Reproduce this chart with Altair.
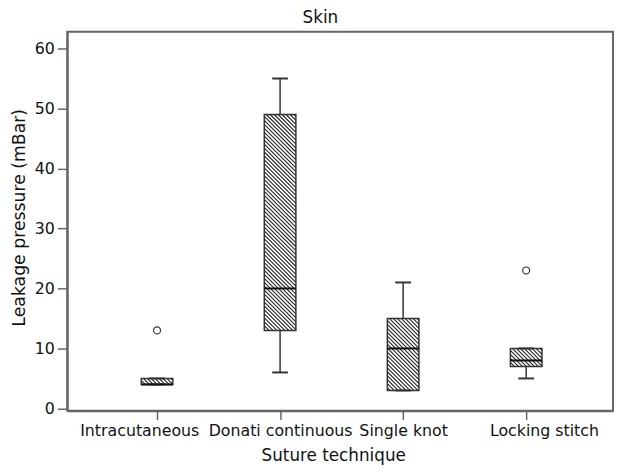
import json
import altair as alt
import pandas as pd

# ---- data ----
categories = ["Intracutaneous", "Donati continuous", "Single knot", "Locking stitch"]
whisker_low = [4, 6, 3, 5]
q1 = [4, 13, 3, 7]
median = [4, 20, 10, 8]
q3 = [5, 49, 15, 10]
whisker_high = [5, 55, 21, 10]
outlier_cat = ["Intracutaneous", "Locking stitch"]
outlier_val = [13, 23]
y_ticks = [0, 10, 20, 30, 40, 50, 60]

# ---- layout ----
W, H = 553, 384
XDOM = [0.27, 4.706]
YDOM = [-0.38, 62.8]
BOX_HALF = 16
CAP_HALF = 8
HATCH_STEP = 4.0
FONT = "DejaVu Sans"
AXIS_GRAY = "#666666"

idx = list(range(1, len(categories) + 1))
boxes = pd.DataFrame({"idx": idx, "cat": categories, "lo": whisker_low, "q1": q1,
                      "med": median, "q3": q3, "hi": whisker_high})
outliers = pd.DataFrame({"idx": [categories.index(c) + 1 for c in outlier_cat],
                         "v": outlier_val})

# hatch segments ("\" direction) inside each box, 45 degrees in screen space
sx = W / (XDOM[1] - XDOM[0])
sy = H / (YDOM[1] - YDOM[0])
rows = []
for i, lo_, hi_ in zip(idx, q1, q3):
    h = (hi_ - lo_) * sy
    c = -BOX_HALF + HATCH_STEP / 2
    while c < h + BOX_HALF:
        u0 = max(-BOX_HALF, -c)
        u1 = min(BOX_HALF, h - c)
        if u1 > u0:
            rows.append({"x": i + u0 / sx, "y": hi_ - (u0 + c) / sy,
                         "x2": i + u1 / sx, "y2": hi_ - (u1 + c) / sy})
        c += HATCH_STEP
hatch = pd.DataFrame(rows)

label_expr = json.dumps(categories) + "[round(datum.value) - 1]"

xscale = alt.Scale(domain=XDOM, nice=False, zero=False)
yscale = alt.Scale(domain=YDOM, nice=False, zero=False)

x_axis = alt.Axis(
    values=idx, labelExpr=label_expr, title="Suture technique", grid=False,
    tickSize=9, tickWidth=1.5, tickColor=AXIS_GRAY, domainColor=AXIS_GRAY, domainWidth=2,
    labelFontSize=16, labelColor="#111111", labelBaseline="alphabetic", labelPadding=16,
    labelOverlap=False, labelFlush=False,
    labelOffset={"condition": [{"test": "datum.value == 1", "value": -18},
                               {"test": "datum.value == 4", "value": 18}], "value": 0},
    titleFontSize=17, titleFontWeight="normal", titleColor="#111111",
    titleBaseline="alphabetic", titleY=50, titleX=W / 2 - 7,
)
y_axis = alt.Axis(
    values=y_ticks, title="Leakage pressure (mBar)", grid=False,
    tickSize=10, tickWidth=1.5, tickColor=AXIS_GRAY, domainColor=AXIS_GRAY, domainWidth=2,
    labelFontSize=16, labelColor="#111111", labelPadding=3,
    titleFontSize=17.5, titleFontWeight="normal", titleColor="#111111",
    titleBaseline="alphabetic", titleX=-43, titleY=188, titleAngle=270,
)

X = alt.X("idx:Q", scale=xscale, axis=x_axis)
Y = alt.Y("v:Q", scale=yscale, axis=y_axis)

base = alt.Chart(boxes)

hatch_layer = alt.Chart(hatch).mark_rule(color="#222222", strokeWidth=1.1).encode(
    x=alt.X("x:Q", scale=xscale, axis=x_axis),
    y=alt.Y("y:Q", scale=yscale, axis=y_axis),
    x2="x2:Q", y2="y2:Q",
)

box_outline = base.mark_rect(xOffset=-BOX_HALF, x2Offset=BOX_HALF, fillOpacity=0,
                             stroke="#333333", strokeWidth=1.5).encode(
    x=X, x2="idx:Q", y=alt.Y("q1:Q", scale=yscale, axis=y_axis), y2="q3:Q")

med_layer = base.mark_rule(xOffset=-BOX_HALF, x2Offset=BOX_HALF, color="#111111",
                           strokeWidth=2).encode(
    x=X, x2="idx:Q", y=alt.Y("med:Q", scale=yscale, axis=y_axis))

whisk_hi = base.mark_rule(color="#333333", strokeWidth=1.5).encode(
    x=X, y=alt.Y("q3:Q", scale=yscale, axis=y_axis), y2="hi:Q")
whisk_lo = base.mark_rule(color="#333333", strokeWidth=1.5).encode(
    x=X, y=alt.Y("lo:Q", scale=yscale, axis=y_axis), y2="q1:Q")

cap_hi = base.mark_rule(xOffset=-CAP_HALF, x2Offset=CAP_HALF, color="#333333",
                        strokeWidth=2).encode(
    x=X, x2="idx:Q", y=alt.Y("hi:Q", scale=yscale, axis=y_axis))
cap_lo = base.mark_rule(xOffset=-CAP_HALF, x2Offset=CAP_HALF, color="#333333",
                        strokeWidth=2).encode(
    x=X, x2="idx:Q", y=alt.Y("lo:Q", scale=yscale, axis=y_axis))

out_layer = alt.Chart(outliers).mark_point(shape="circle", size=50, fill="white",
                                           fillOpacity=1, stroke="#333333",
                                           strokeWidth=1.2, opacity=1).encode(x=X, y=Y)

chart = alt.layer(
    hatch_layer, box_outline, whisk_hi, whisk_lo, cap_hi, cap_lo, med_layer, out_layer
).properties(
    width=W, height=H,
    title=alt.TitleParams("Skin", fontSize=17, font=FONT, fontWeight="normal",
                          color="#111111", anchor="middle", baseline="alphabetic",
                          offset=9, dy=17, dx=-20),
    autosize=alt.AutoSizeParams(type="none"),
    padding={"left": 60, "top": 21, "right": 3, "bottom": 54},
).configure(
    font=FONT, background="white"
).configure_view(
    stroke=AXIS_GRAY, strokeWidth=2
)

chart.save("out.html", embed_options={"renderer": "svg", "actions": False})
